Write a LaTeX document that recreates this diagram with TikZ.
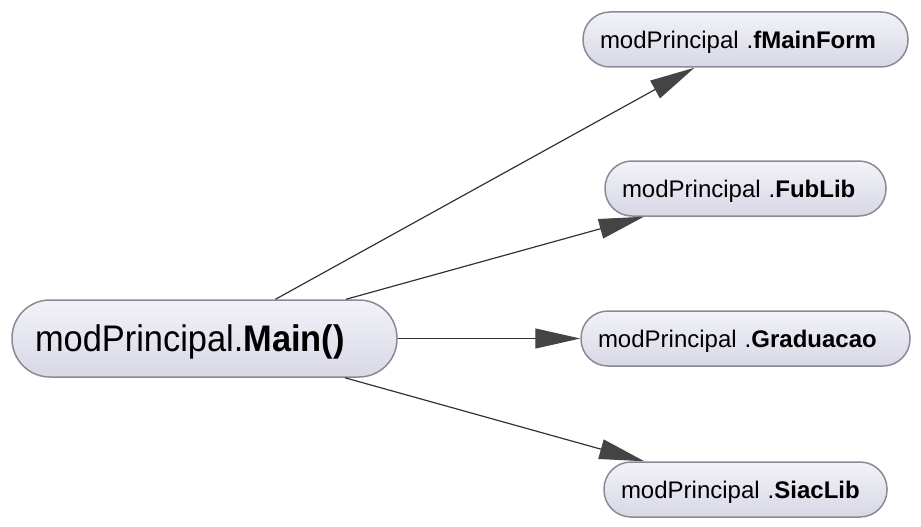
\documentclass[tikz,border=0pt]{standalone}
\usepackage{fontspec}
\setmainfont{Liberation Sans}
\newfontfamily\mainlabelfont[FakeStretch=0.93]{Liberation Sans}
\usetikzlibrary{arrows.meta}
\definecolor{bordc}{HTML}{8A8A96}
\definecolor{topc}{HTML}{F2F2F8}
\definecolor{botc}{HTML}{D8D8E6}
\definecolor{linec}{HTML}{333333}
\definecolor{tipc}{HTML}{444444}
\tikzset{
  capsule/.style={draw=bordc, line width=1.5pt, top color=topc, bottom color=botc,
    rounded corners=#1, inner ysep=0pt, text=black, align=left},
  mainbox/.style={capsule=38pt, inner xsep=23pt, text width=339pt, minimum height=77pt,
    text height=26.5pt, text depth=0pt,
    font=\mainlabelfont\fontsize{37}{40}\selectfont},
  leafbox/.style={capsule=27pt, inner xsep=17pt, minimum height=55pt,
    text height=17.2pt, text depth=0pt,
    font=\fontsize{24}{27}\selectfont},
  conn/.style={draw=linec, line width=1.2pt,
    -{Triangle[length=45pt,width=20pt,fill=tipc,color=tipc]}}
}
\begin{document}
\begin{tikzpicture}[x=1pt,y=1pt]
\useasboundingbox (0,0) rectangle (921,-527);
\node[mainbox] (main) at (204.5,-338.5) {modPrincipal.\textbf{Main()}};
\node[leafbox, text width=291pt] (f1) at (745.5,-39.5) {modPrincipal .\textbf{fMainForm}};
\node[leafbox, text width=247pt] (f2) at (745.5,-188.5) {modPrincipal .\textbf{FubLib}};
\node[leafbox, text width=295pt] (f3) at (745.5,-338.5) {modPrincipal .\textbf{Graduacao}};
\node[leafbox, text width=249pt] (f4) at (745.5,-489.5) {modPrincipal .\textbf{SiacLib}};
\draw[conn] (main) -- (f1);
\draw[conn] (main) -- (f2);
\draw[conn] (main) -- (f3);
\draw[conn] (main) -- (f4);
\end{tikzpicture}
\end{document}
